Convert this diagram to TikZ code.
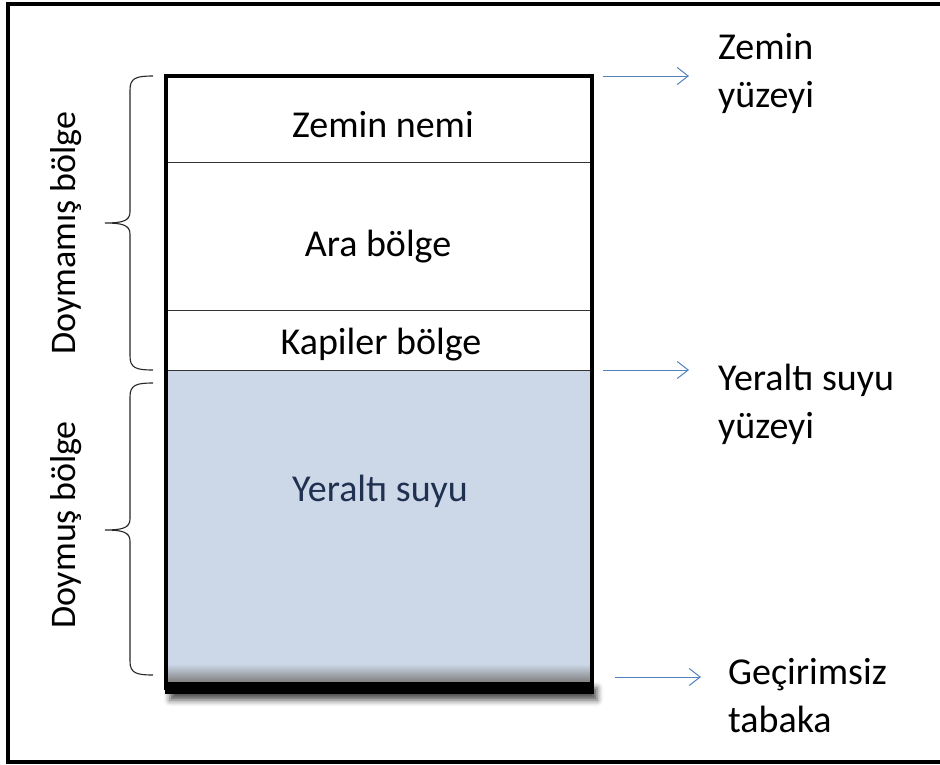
\documentclass[tikz,border=0pt]{standalone}
\usepackage{fontspec}
\setmainfont{Carlito}
\usetikzlibrary{arrows.meta,shadows.blur}
\definecolor{water}{HTML}{CCD8E8}
\definecolor{arrowblue}{HTML}{4F81BD}
\definecolor{navytext}{HTML}{1F3050}
\tikzset{
  lbl/.style={font=\fontsize{38}{48}\selectfont, inner sep=0pt, text=black},
  sidelbl/.style={lbl, anchor=base west, align=left},
  rotlbl/.style={font=\fontsize{36}{44}\selectfont, inner sep=0pt, rotate=90, anchor=base},
  bracestyle/.style={draw=black!85, line width=1.1pt},
  ptr/.style={draw=arrowblue, line width=1pt, -{Straight Barb[length=11pt,width=17pt,line width=1pt]}},
  divider/.style={draw=black!80, line width=1pt},
}
\begin{document}
\begin{tikzpicture}[x=1pt,y=-1pt]
\clip (0,0) rectangle (940,764);
\useasboundingbox (0,0) rectangle (940,764);
% outer frame
\draw[line width=4pt] (8,3.5) rectangle (950,762);
% bar shadow
\fill[black, blur shadow={shadow xshift=4pt, shadow yshift=-6pt, shadow blur radius=6pt, shadow opacity=70}] (166,682) rectangle (593,694);
% water
\fill[water] (166,370) rectangle (592,682);
\shade[top color=water, bottom color=black!50] (166,664) rectangle (592,682);
% bar
\fill[black] (165,682) rectangle (594,694);
% column dividers
\draw[divider] (166,162) -- (592,162);
\draw[divider] (166,310) -- (592,310);
\draw[divider] (166,370) -- (592,370);
% column outline
\draw[line width=3.5pt] (166,690) -- (166,76) -- (592,76) -- (592,690);
% column labels
\node[lbl, anchor=base] (zn) at (383,137) {Zemin nemi};
\node[lbl, anchor=base] (ab) at (378,256) {Ara bölge};
\node[lbl, anchor=base] (kb) at (381,354) {Kapiler bölge};
\node[lbl, anchor=base, text=navytext] (ys) at (380,501) {Yeraltı suyu};
% braces
\draw[bracestyle] (153,76) .. controls (136,76) and (130,78) .. (130,90) -- (130,212)
  .. controls (130,221) and (122,223) .. (105,223)
  .. controls (122,223) and (130,225) .. (130,234) -- (130,356)
  .. controls (130,368) and (136,370) .. (153,370);
\draw[bracestyle] (153,383) .. controls (136,383) and (130,385) .. (130,397) -- (130,519)
  .. controls (130,528) and (122,530) .. (105,530)
  .. controls (122,530) and (130,532) .. (130,541) -- (130,661)
  .. controls (130,673) and (136,675) .. (153,675);
\node[rotlbl] (db) at (75,233) {Doymamış bölge};
\node[rotlbl] (dmb) at (75,525) {Doymuş bölge};
% arrows and side labels
\coordinate (a1s) at (603,76);  \coordinate (a1e) at (689,76);
\coordinate (a2s) at (603,370); \coordinate (a2e) at (689,370);
\coordinate (a3s) at (615,677); \coordinate (a3e) at (701,677);
\draw[ptr] (a1s) -- (a1e);
\draw[ptr] (a2s) -- (a2e);
\draw[ptr] (a3s) -- (a3e);
\node[sidelbl] (zy) at (718,107) {Zemin\\yüzeyi};
\node[sidelbl] (yy) at (718,438) {Yeraltı suyu\\yüzeyi};
\node[sidelbl] (gt) at (728,732) {Geçirimsiz\\tabaka};
\end{tikzpicture}
\end{document}
